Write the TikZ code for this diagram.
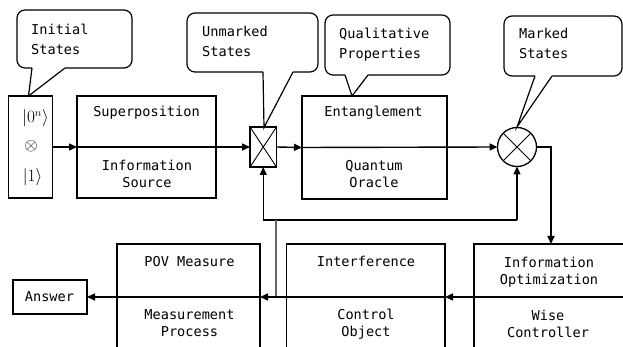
\documentclass[tikz,border=0pt]{standalone}
\usepackage{fontspec}
\usetikzlibrary{arrows.meta}
\newfontfamily\monofam{DejaVu Sans Mono}
\begin{document}
\begin{tikzpicture}[x=1pt,y=-1pt,
  blk/.style={draw, line width=1.3pt, inner sep=0pt, outer sep=0pt},
  callbox/.style={draw, line width=1.2pt, rounded corners=8pt, inner sep=0pt, outer sep=0pt},
  lbl/.style={font=\monofam\fontsize{13.6}{17}\selectfont, align=center, inner sep=0pt, anchor=base},
  clbl/.style={font=\monofam\fontsize{13.6}{20}\selectfont, align=left, inner sep=0pt, anchor=base west},
  ket/.style={font=\fontsize{16}{18}\selectfont, inner sep=0pt},
  arr/.style={line width=1.4pt, -{Triangle[length=8pt,width=7pt]}},
  tail/.style={line width=1.2pt, line join=miter},
]
\useasboundingbox (0,0) rectangle (623,347);
\clip (0,0) rectangle (623,347);

% ---- upper row: state preparation and oracle ----
\node[blk, minimum width=44pt, minimum height=102pt] (init) at (30.5,147) {};
\node[ket] (k0) at (35.5,118) {$|0^n\rangle$};
\node[ket] (kx) at (31,146) {$\otimes$};
\node[ket] (k1) at (32.5,177) {$|1\rangle$};

\node[blk, minimum width=139pt, minimum height=102pt] (sup) at (146.5,147) {};
\node[lbl] (tSup) at (146.5,117) {Superposition};
\node[lbl] (tSrc) at (147,188) {Information\\Source};

\node[blk, minimum width=26.5pt, minimum height=40pt] (cross) at (263.25,147) {};
\draw[line width=0.9pt] (cross.north west) -- (cross.south east)
                        (cross.north east) -- (cross.south west);

\node[blk, minimum width=145pt, minimum height=103pt] (ent) at (374.5,147.5) {};
\node[lbl] (tEnt) at (373.5,117) {Entanglement};
\node[lbl] (tOrc) at (374,188) {Quantum\\Oracle};

\node[draw, circle, line width=1.3pt, minimum size=39pt, inner sep=0pt, outer sep=0pt] (circ) at (517,147) {};
\draw[line width=0.9pt] (circ.north west) -- (circ.south east)
                        (circ.north east) -- (circ.south west);

% ---- lower row: control and measurement ----
\node[blk, minimum width=143pt, minimum height=106pt] (pov) at (188.5,297) {};
\node[lbl] (tPov) at (189.5,266) {POV Measure};
\node[lbl] (tMp) at (189.5,336) {Measurement\\Process};

\node[blk, minimum width=158.5pt, minimum height=106pt] (intf) at (365.75,297) {};
\node[lbl] (tInt) at (366,266) {Interference};
\node[lbl] (tCo) at (366,336) {Control\\Object};

\node[blk, minimum width=226pt, minimum height=106pt] (opt) at (587,297) {};
\node[lbl] (tIo) at (549,284) {Information\\Optimization};
\node[lbl] (tWc) at (548,337) {Wise\\Controller};

\node[blk, minimum width=74pt, minimum height=34pt] (ans) at (50,297) {};
\node[lbl] (tAns) at (49.5,301) {Answer};

% ---- callouts ----
\node[callbox, minimum width=115pt, minimum height=58pt] (cInit) at (74.5,39) {};
\node[callbox, minimum width=131pt, minimum height=59pt] (cUnm) at (252.5,42.5) {};
\node[callbox, minimum width=125pt, minimum height=60pt] (cQual) at (387.5,45) {};
\node[callbox, minimum width=118pt, minimum height=60pt] (cMark) at (563,46) {};

\fill[white] (32,66) -- (32,68) -- (28.5,95.5) -- (65,68) -- (65,66) -- cycle;
\draw[tail] (32,68) -- (28.5,96) -- (65,68);
\fill[white] (263,70) -- (263,72) -- (264,127) -- (293,72) -- (293,70) -- cycle;
\draw[tail] (263,72) -- (264,127.5) -- (293,72);
\fill[white] (345,73) -- (345,75) -- (352,95.5) -- (368,75) -- (368,73) -- cycle;
\draw[tail] (345,75) -- (352,96) -- (368,75);
\fill[white] (535,74) -- (535,76) -- (517,126.5) -- (552,76) -- (552,74) -- cycle;
\draw[tail] (535,76) -- (517,127) -- (552,76);

\node[clbl] (tcInit) at (31,55) {Initial\\States};
\node[clbl] (tcUnm) at (202,57) {Unmarked\\States};
\node[clbl] (tcQual) at (339,59) {Qualitative\\Properties};
\node[clbl] (tcMark) at (519,59) {Marked\\States};

% ---- signal flow ----
\coordinate (optin) at (551,244);
\coordinate (fbr) at (517,220);
\coordinate (tap) at (276,297);
\coordinate (rin) at (623,297);

\draw[arr] (init.east) -- (sup.west);
\draw[arr] (sup.west) -- (cross.west);
\draw[arr] (cross.east) -- (ent.west);
\draw[arr] (ent.west) -- (circ.west);
\draw[arr] (circ.east) -| (optin);

\draw[arr] (fbr) -| (cross.south);
\draw[arr] (fbr) -- (circ.south);
\draw[line width=1.1pt, black!60] (tap) -- (tap |- fbr);

\draw[arr] (rin) -- (intf.east);
\draw[arr] (intf.east) -- (pov.east);
\draw[arr] (pov.east) -- (ans.east);
\end{tikzpicture}
\end{document}
